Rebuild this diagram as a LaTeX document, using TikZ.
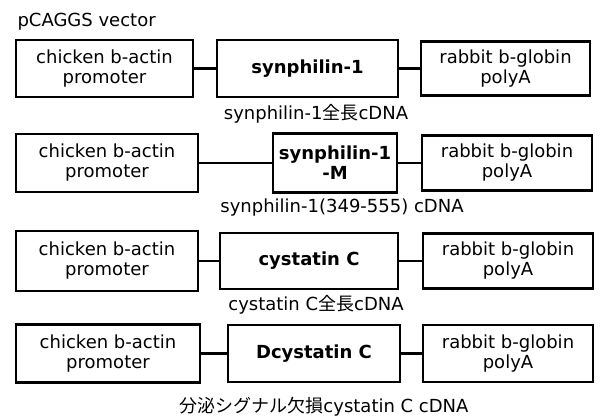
\documentclass[tikz,border=0pt]{standalone}
\usepackage{fontspec}
\setmainfont{DejaVu Sans}
\newfontfamily\jp{Noto Sans CJK JP}

\begin{document}
\begin{tikzpicture}[x=1pt, y=-1pt,
    part/.style={draw, line width=2.6pt, align=center, inner sep=0pt,
        font=\fontsize{18}{20}\selectfont},
    insert/.style={part, font=\fontsize{18}{20}\selectfont\bfseries},
    link/.style={line width=2.2pt},
    caption/.style={font=\fontsize{18}{20}\selectfont}]

    \useasboundingbox (0,0) rectangle (601,416);

    % Title
    \node[caption, anchor=west] (title) at (14, 22) {pCAGGS vector};

    % ==========================================
    % ROW 1: full-length synphilin-1
    % ==========================================
    \node[part, minimum width=177, minimum height=57] (prom1) at (104.5, 68.5)
        {chicken b-actin\\promoter};
    \node[insert, minimum width=181, minimum height=57] (cdna1) at (307.5, 68.5)
        {synphilin-1};
    \node[part, minimum width=169, minimum height=54] (polya1) at (505.5, 68.5)
        {rabbit b-globin\\polyA};
    \draw[link] (prom1) -- (cdna1);
    \draw[link] (cdna1) -- (polya1);
    \node[caption] (lab1) at (316, 114) {synphilin-1{\jp 全長}cDNA};

    % ==========================================
    % ROW 2: synphilin-1 fragment
    % ==========================================
    \node[part, minimum width=182, minimum height=58] (prom2) at (107, 163)
        {chicken b-actin\\promoter};
    \node[insert, minimum width=124, minimum height=59] (cdna2) at (335, 163)
        {synphilin-1\\-M};
    \node[part, minimum width=170, minimum height=55] (polya2) at (507, 163)
        {rabbit b-globin\\polyA};
    \draw[link] (prom2) -- (cdna2);
    \draw[link] (cdna2) -- (polya2);
    \node[caption] (lab2) at (342, 208) {synphilin-1(349-555) cDNA};

    % ==========================================
    % ROW 3: full-length cystatin C
    % ==========================================
    \node[part, minimum width=182, minimum height=60] (prom3) at (107, 261)
        {chicken b-actin\\promoter};
    \node[insert, minimum width=178, minimum height=56] (cdna3) at (309, 261)
        {cystatin C};
    \node[part, minimum width=170, minimum height=55] (polya3) at (508, 261)
        {rabbit b-globin\\polyA};
    \draw[link] (prom3) -- (cdna3);
    \draw[link] (cdna3) -- (polya3);
    \node[caption] (lab3) at (316, 305) {cystatin C{\jp 全長}cDNA};

    % ==========================================
    % ROW 4: cystatin C without signal peptide
    % ==========================================
    \node[part, minimum width=184, minimum height=58] (prom4) at (108, 353.5)
        {chicken b-actin\\promoter};
    \node[insert, minimum width=172, minimum height=57] (cdna4) at (314, 353.5)
        {Dcystatin C};
    \node[part, minimum width=170, minimum height=57] (polya4) at (508, 353.5)
        {rabbit b-globin\\polyA};
    \draw[link] (prom4) -- (cdna4);
    \draw[link] (cdna4) -- (polya4);
    \node[caption] (lab4) at (324, 407) {{\jp 分泌シグナル欠損}cystatin C cDNA};

\end{tikzpicture}
\end{document}
